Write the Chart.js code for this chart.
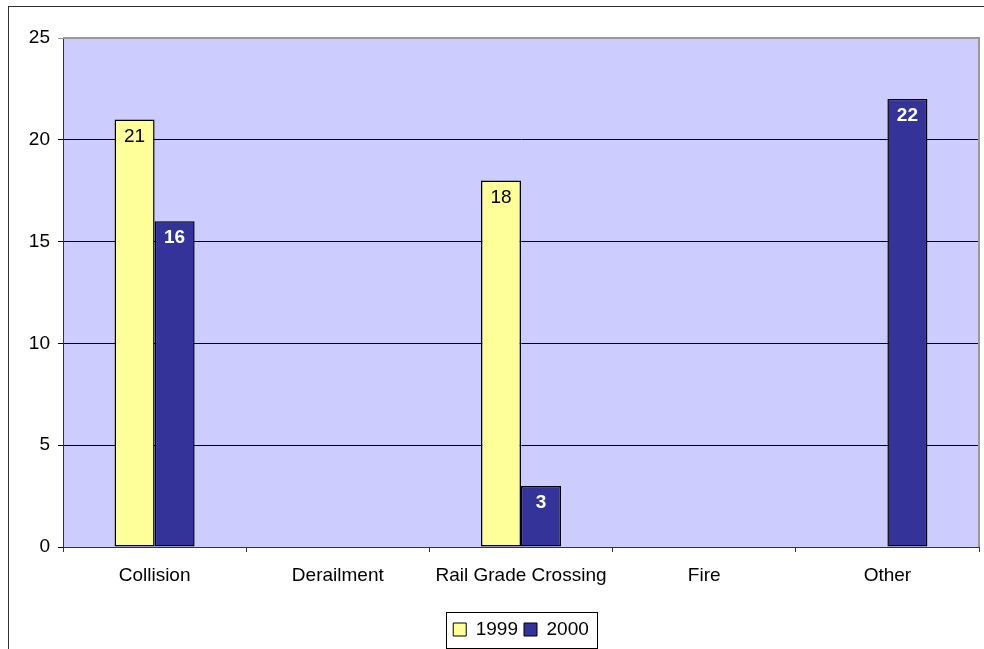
<!DOCTYPE html>
<html><head><meta charset="utf-8">
<script src="https://cdn.jsdelivr.net/npm/chart.js@4.4.0/dist/chart.umd.min.js"></script>
<style>
html,body{margin:0;padding:0;background:#fff;}
#wrap{position:relative;width:984px;height:649px;overflow:hidden;}
#frame{position:absolute;left:8px;top:6px;width:1100px;height:800px;border:1px solid #333;}
canvas{position:absolute;left:0;top:0;}
</style></head><body>
<div id="wrap"><div id="frame"></div><canvas id="c" width="984" height="649"></canvas></div>
<script>
const categories = ['Collision', 'Derailment', 'Rail Grade Crossing', 'Fire', 'Other'];
const values1999 = [21, 0, 18, 0, 0];
const values2000 = [16, 0, 3, 0, 22];
const seriesNames = ['1999', '2000'];
const yMin = 0, yMax = 25, yStep = 5;

const FONT = "'Liberation Sans', Arial, sans-serif";
const FS = 19;

const plotBg = {
  id: 'plotBg',
  beforeDraw(chart) {
    const {ctx, chartArea: a} = chart;
    ctx.save();
    ctx.fillStyle = '#CCCCFF';
    ctx.fillRect(a.left, a.top, a.right - a.left, a.bottom - a.top);
    ctx.restore();
  },
  afterDatasetsDraw(chart) {
    const {ctx, chartArea: a} = chart;
    ctx.save();
    ctx.strokeStyle = '#999999';
    ctx.lineWidth = 2;
    ctx.beginPath();
    ctx.moveTo(a.left, a.top);
    ctx.lineTo(a.right, a.top);
    ctx.lineTo(a.right, a.bottom);
    ctx.stroke();
    ctx.restore();
  }
};

const barLabels = {
  id: 'barLabels',
  afterDatasetsDraw(chart) {
    const {ctx} = chart;
    ctx.save();
    ctx.textAlign = 'center';
    ctx.textBaseline = 'middle';
    chart.data.datasets.forEach((ds, di) => {
      const meta = chart.getDatasetMeta(di);
      meta.data.forEach((bar, i) => {
        const v = ds.data[i];
        if (!v) return;
        if (di === 0) { ctx.fillStyle = '#000'; ctx.font = FS + 'px ' + FONT; }
        else { ctx.fillStyle = '#fff'; ctx.font = 'bold ' + FS + 'px ' + FONT; }
        ctx.fillText(String(v), bar.x, bar.y + 17);
      });
    });
    ctx.restore();
  }
};

const legendBox = {
  id: 'legendBox',
  afterLayout(chart) {
    const lg = chart.legend;
    if (!lg) return;
    const a = chart.chartArea;
    lg.left = a.left; lg.right = a.right; lg.width = a.right - a.left;
  },
  afterDraw(chart) {
    const lg = chart.legend;
    if (!lg || !lg.legendHitBoxes || !lg.legendHitBoxes.length) return;
    const hb = lg.legendHitBoxes;
    const first = hb[0], last = hb[hb.length - 1];
    const left = first.left - 7;
    const right = last.left + last.width + 8;
    const cy = first.top + first.height / 2;
    const {ctx} = chart;
    ctx.save();
    ctx.strokeStyle = '#000';
    ctx.lineWidth = 1;
    ctx.strokeRect(Math.round(left) + 0.5, Math.round(cy - 18) + 0.5, Math.round(right - left), 36);
    ctx.restore();
  }
};

new Chart(document.getElementById('c'), {
  type: 'bar',
  data: {
    labels: categories,
    datasets: [
      { label: seriesNames[0], data: values1999, backgroundColor: '#FFFF99', borderColor: '#000000', borderWidth: 1.5, borderSkipped: false, inflateAmount: 0 },
      { label: seriesNames[1], data: values2000, backgroundColor: '#333399', borderColor: '#000000', borderWidth: 1.5, borderSkipped: false, inflateAmount: 0 }
    ]
  },
  options: {
    responsive: false,
    devicePixelRatio: 1,
    animation: false,
    categoryPercentage: 0.437,
    barPercentage: 1,
    layout: { padding: { left: 0, right: 5, top: 38, bottom: 0 } },
    plugins: {
      tooltip: { enabled: false },
      legend: {
        position: 'bottom',
        labels: {
          color: '#000',
          font: { family: FONT, size: FS },
          boxWidth: 13, boxHeight: 13,
          padding: 6,
          generateLabels(chart) {
            return chart.data.datasets.map((ds, i) => ({
              text: ds.label, fillStyle: ds.backgroundColor, strokeStyle: '#000',
              lineWidth: 1, hidden: false, datasetIndex: i, fontColor: '#000'
            }));
          }
        }
      }
    },
    scales: {
      x: {
        offset: true,
        grid: { display: true, drawOnChartArea: false, offset: true, color: '#333', tickLength: 5, tickWidth: 1 },
        border: { color: '#333', width: 1 },
        ticks: { color: '#000', font: { family: FONT, size: FS }, padding: 12, maxRotation: 0, autoSkip: false },
        afterFit(s) { s.height = 67; }
      },
      y: {
        min: yMin, max: yMax,
        grid: { color: c => (c.tick && c.tick.value === yMax ? '#999999' : '#000'), lineWidth: 1, tickLength: 5 },
        border: { color: '#333', width: 1 },
        ticks: { stepSize: yStep, color: '#000', font: { family: FONT, size: FS }, padding: 8 },
        afterFit(s) { s.width = 63; }
      }
    }
  },
  plugins: [plotBg, barLabels, legendBox]
});
</script>
</body></html>
